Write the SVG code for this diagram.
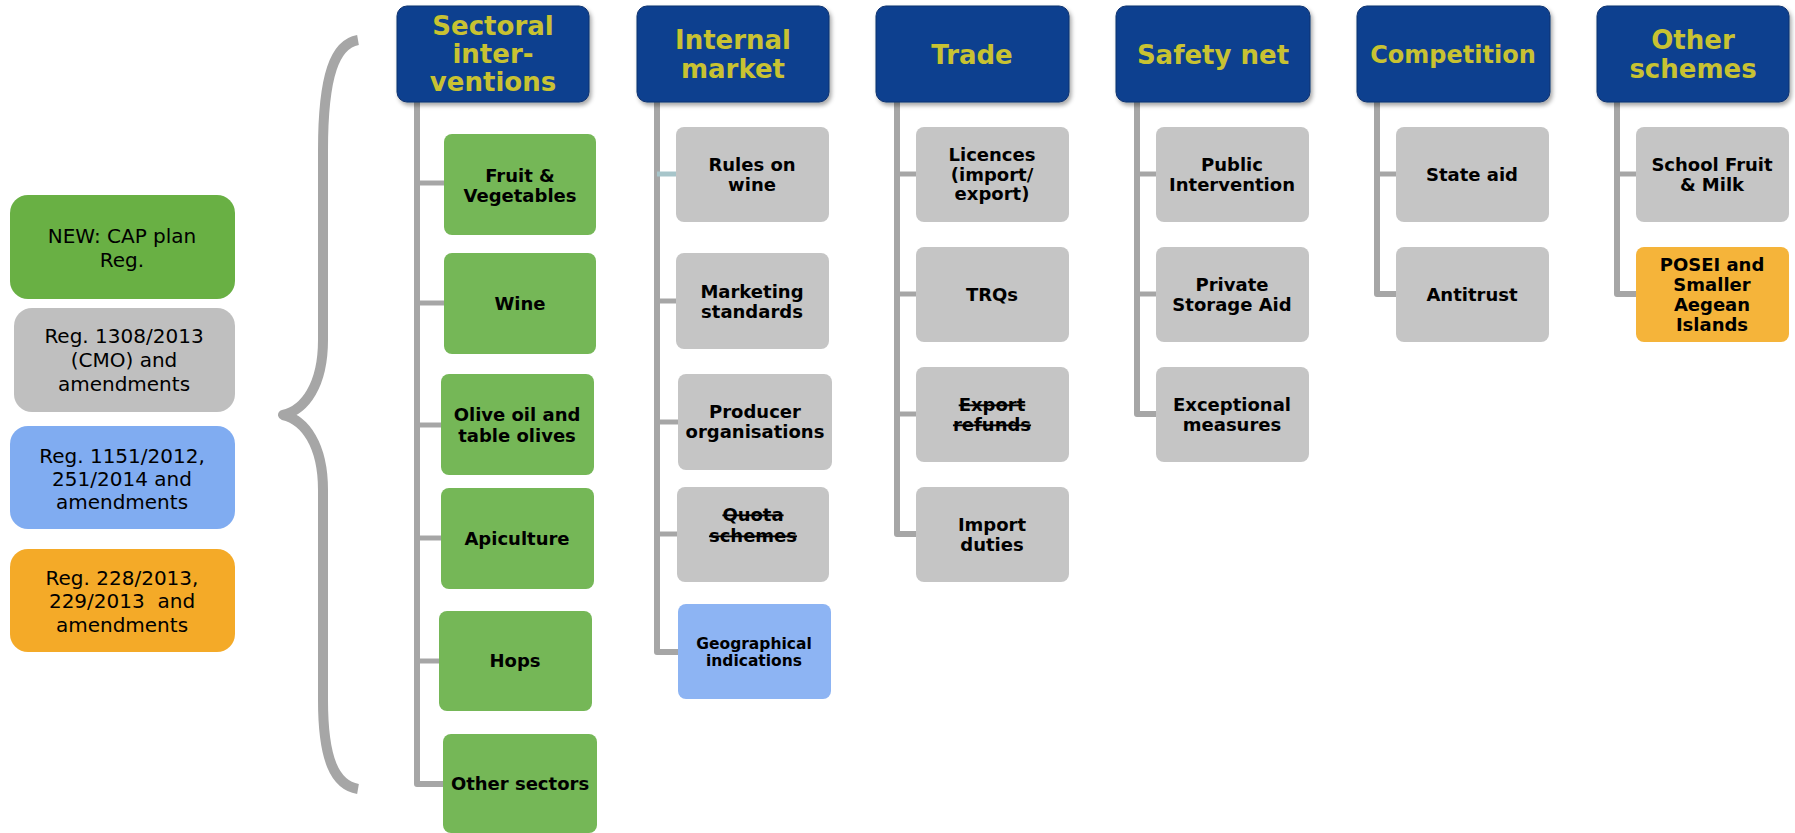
<svg xmlns="http://www.w3.org/2000/svg" width="1795" height="833" viewBox="0 0 1795 833">
<defs>
<filter id="sh" x="-10%" y="-10%" width="125%" height="130%">
<feDropShadow dx="2" dy="3" stdDeviation="2" flood-color="#000" flood-opacity="0.35"/>
</filter>
<style>
text{font-family:"DejaVu Sans",Verdana,sans-serif;text-anchor:middle}
.lg{font-size:20px;fill:#000}
.hd rect{fill:#113f8f;stroke:#0d336f;stroke-width:1}
.hd text{font-size:26px;font-weight:bold;fill:#c8c232}
.ch text{font-size:18px;font-weight:bold;fill:#000}
.g{fill:#75b757}
.y{fill:#c5c5c5}
.b{fill:#8db4f3}
.o{fill:#f5b43a}
.st{text-decoration:line-through}
.cn{stroke:#a6a6a6;stroke-width:6;fill:none;stroke-linejoin:round}
.stub{stroke:#a6a6a6;stroke-width:5}
</style>
</defs>
<rect width="1795" height="833" fill="#fff"/>

<!-- legend -->
<g id="legend-new"><rect x="10" y="195" width="225" height="104" rx="18" fill="#69b044"/>
<text class="lg" x="122" y="243">NEW: CAP plan</text><text class="lg" x="122" y="267">Reg.</text></g>
<g id="legend-cmo"><rect x="14" y="308" width="221" height="104" rx="18" fill="#bfbfbf"/>
<text class="lg" x="124" y="343">Reg. 1308/2013</text><text class="lg" x="124" y="367">(CMO) and</text><text class="lg" x="124" y="391">amendments</text></g>
<g id="legend-gi"><rect x="10" y="426" width="225" height="103" rx="18" fill="#80acf1"/>
<text class="lg" x="122" y="463">Reg. 1151/2012,</text><text class="lg" x="122" y="486">251/2014 and</text><text class="lg" x="122" y="509">amendments</text></g>
<g id="legend-posei"><rect x="10" y="549" width="225" height="103" rx="18" fill="#f4aa28"/>
<text class="lg" x="122" y="585">Reg. 228/2013,</text><text class="lg" x="122" y="608" xml:space="preserve">229/2013  and</text><text class="lg" x="122" y="632">amendments</text></g>

<!-- brace -->
<g id="brace"><path d="M358,40 C335,44 323,75 323,150 L323,340 C323,385 305,410 283,415 C305,420 323,445 323,490 L323,700 C323,760 335,785 358,789" fill="none" stroke="#a6a6a6" stroke-width="10" stroke-linejoin="round"/></g>

<!-- connectors -->
<g id="connectors">
<path class="cn" d="M417,102 V784 H443"/>
<line class="stub" x1="417" y1="183" x2="444" y2="183"/>
<line class="stub" x1="417" y1="303" x2="444" y2="303"/>
<line class="stub" x1="417" y1="425" x2="441" y2="425"/>
<line class="stub" x1="417" y1="538" x2="441" y2="538"/>
<line class="stub" x1="417" y1="661" x2="439" y2="661"/>

<path class="cn" d="M657,102 V652 H678"/>
<line class="stub" x1="657" y1="174" x2="676" y2="174" stroke="#a7c5ca" style="stroke:#a7c5ca"/>
<line class="stub" x1="657" y1="301" x2="676" y2="301"/>
<line class="stub" x1="657" y1="422" x2="678" y2="422"/>
<line class="stub" x1="657" y1="534" x2="677" y2="534"/>

<path class="cn" d="M897,102 V534 H916"/>
<line class="stub" x1="897" y1="174" x2="916" y2="174"/>
<line class="stub" x1="897" y1="294" x2="916" y2="294"/>
<line class="stub" x1="897" y1="414" x2="916" y2="414"/>

<path class="cn" d="M1137,102 V414 H1156"/>
<line class="stub" x1="1137" y1="174" x2="1156" y2="174"/>
<line class="stub" x1="1137" y1="294" x2="1156" y2="294"/>

<path class="cn" d="M1377,102 V294 H1396"/>
<line class="stub" x1="1377" y1="174" x2="1396" y2="174"/>

<path class="cn" d="M1617,102 V294 H1636"/>
<line class="stub" x1="1617" y1="174" x2="1636" y2="174"/>
</g>

<!-- headers -->
<g id="h-sectoral" class="hd"><rect x="397" y="6" width="192" height="96" rx="10" filter="url(#sh)"/>
<text x="493" y="35">Sectoral</text><text x="493" y="63">inter-</text><text x="493" y="91">ventions</text></g>
<g id="h-internal" class="hd"><rect x="637" y="6" width="192" height="96" rx="10" filter="url(#sh)"/>
<text x="733" y="49">Internal</text><text x="733" y="78">market</text></g>
<g id="h-trade" class="hd"><rect x="876" y="6" width="193" height="96" rx="10" filter="url(#sh)"/>
<text x="972" y="64">Trade</text></g>
<g id="h-safety" class="hd"><rect x="1116" y="6" width="194" height="96" rx="10" filter="url(#sh)"/>
<text x="1213" y="64">Safety net</text></g>
<g id="h-competition" class="hd"><rect x="1357" y="6" width="193" height="96" rx="10" filter="url(#sh)"/>
<text x="1453" y="63" style="font-size:24px">Competition</text></g>
<g id="h-other" class="hd"><rect x="1597" y="6" width="192" height="96" rx="10" filter="url(#sh)"/>
<text x="1693" y="49">Other</text><text x="1693" y="78">schemes</text></g>

<!-- sectoral children -->
<g id="n-fruit" class="ch"><rect class="g" x="444" y="134" width="152" height="101" rx="8"/><text x="520" y="182">Fruit &amp;</text><text x="520" y="202">Vegetables</text></g>
<g id="n-wine" class="ch"><rect class="g" x="444" y="253" width="152" height="101" rx="8"/><text x="520" y="310">Wine</text></g>
<g id="n-olive" class="ch"><rect class="g" x="441" y="374" width="153" height="101" rx="8"/><text x="517" y="421">Olive oil and</text><text x="517" y="442">table olives</text></g>
<g id="n-apiculture" class="ch"><rect class="g" x="441" y="488" width="153" height="101" rx="8"/><text x="517" y="545">Apiculture</text></g>
<g id="n-hops" class="ch"><rect class="g" x="439" y="611" width="153" height="100" rx="8"/><text x="515" y="667">Hops</text></g>
<g id="n-othersectors" class="ch"><rect class="g" x="443" y="734" width="154" height="99" rx="8"/><text x="520" y="790">Other sectors</text></g>

<!-- internal market children -->
<g id="n-rules" class="ch"><rect class="y" x="676" y="127" width="153" height="95" rx="8"/><text x="752" y="171">Rules on</text><text x="752" y="191">wine</text></g>
<g id="n-marketing" class="ch"><rect class="y" x="676" y="253" width="153" height="96" rx="8"/><text x="752" y="298">Marketing</text><text x="752" y="318">standards</text></g>
<g id="n-producer" class="ch"><rect class="y" x="678" y="374" width="154" height="96" rx="8"/><text x="755" y="418">Producer</text><text x="755" y="438">organisations</text></g>
<g id="n-quota" class="ch"><rect class="y" x="677" y="487" width="152" height="95" rx="8"/><text class="st" x="753" y="521">Quota</text><text class="st" x="753" y="542">schemes</text></g>
<g id="n-gi" class="ch"><rect class="b" x="678" y="604" width="153" height="95" rx="8"/><text x="754" y="649" style="font-size:15.5px">Geographical</text><text x="754" y="666" style="font-size:15.5px">indications</text></g>

<!-- trade children -->
<g id="n-licences" class="ch"><rect class="y" x="916" y="127" width="153" height="95" rx="8"/><text x="992" y="161">Licences</text><text x="992" y="181">(import/</text><text x="992" y="200">export)</text></g>
<g id="n-trqs" class="ch"><rect class="y" x="916" y="247" width="153" height="95" rx="8"/><text x="992" y="301">TRQs</text></g>
<g id="n-export" class="ch"><rect class="y" x="916" y="367" width="153" height="95" rx="8"/><text class="st" x="992" y="411">Export</text><text class="st" x="992" y="431">refunds</text></g>
<g id="n-import" class="ch"><rect class="y" x="916" y="487" width="153" height="95" rx="8"/><text x="992" y="531">Import</text><text x="992" y="551">duties</text></g>

<!-- safety net children -->
<g id="n-public" class="ch"><rect class="y" x="1156" y="127" width="153" height="95" rx="8"/><text x="1232" y="171">Public</text><text x="1232" y="191">Intervention</text></g>
<g id="n-private" class="ch"><rect class="y" x="1156" y="247" width="153" height="95" rx="8"/><text x="1232" y="291">Private</text><text x="1232" y="311">Storage Aid</text></g>
<g id="n-exceptional" class="ch"><rect class="y" x="1156" y="367" width="153" height="95" rx="8"/><text x="1232" y="411">Exceptional</text><text x="1232" y="431">measures</text></g>

<!-- competition children -->
<g id="n-stateaid" class="ch"><rect class="y" x="1396" y="127" width="153" height="95" rx="8"/><text x="1472" y="181">State aid</text></g>
<g id="n-antitrust" class="ch"><rect class="y" x="1396" y="247" width="153" height="95" rx="8"/><text x="1472" y="301">Antitrust</text></g>

<!-- other schemes children -->
<g id="n-school" class="ch"><rect class="y" x="1636" y="127" width="153" height="95" rx="8"/><text x="1712" y="171">School Fruit</text><text x="1712" y="191">&amp; Milk</text></g>
<g id="n-posei" class="ch"><rect class="o" x="1636" y="247" width="153" height="95" rx="8"/><text x="1712" y="271">POSEI and</text><text x="1712" y="291">Smaller</text><text x="1712" y="311">Aegean</text><text x="1712" y="331">Islands</text></g>
</svg>
